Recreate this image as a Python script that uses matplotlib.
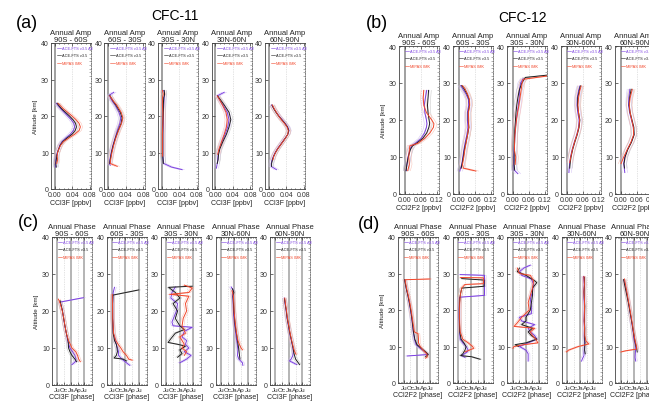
import matplotlib
matplotlib.use("Agg")
import matplotlib.pyplot as plt
import numpy as np

plt.rcParams['font.family'] = ['Liberation Sans', 'DejaVu Sans']

regions = ['90S - 60S', '60S - 30S', '30S - 30N', '30N-60N', '60N-90N']
labels = ['ACE-FTS v3.5 All', 'ACE-FTS v3.5', 'MIPAS IMK']
phase_ticks = [0, 3, 6, 9, 12]
phase_labels = ['Ju', 'Oc', 'Ja', 'Ap', 'Ju']

# (altitude km, value) pairs
# (a) CFC-11 annual amplitude [ppbv]
a1_all = [(6,.001),(7,.001),(8,.002),(9,.003),(10,.005),(11,.008),(12,.011),(13,.016),(14,.025),(15,.035),(16,.042),(17,.045),(18,.043),(19,.037),(20,.029),(21,.021),(22,.013),(23,.006),(23.5,.003)]
a1_ace = [(6,.003),(7,.002),(8,.003),(9,.004),(10,.006),(11,.009),(12,.012),(13,.018),(14,.028),(15,.039),(16,.046),(17,.049),(18,.047),(19,.041),(20,.033),(21,.024),(22,.015),(23,.008),(23.5,.005)]
a1_mip = [(7,.004),(8,.006),(9,.005),(10,.006),(11,.009),(12,.013),(13,.02),(14,.032),(15,.045),(16,.055),(17,.058),(18,.055),(19,.048),(20,.039),(21,.029),(22,.019),(23,.011),(23.5,.007)]
a2_all = [(6.5,.004),(7,.002),(8,.003),(10,.006),(12,.010),(14,.015),(16,.020),(18,.026),(19.5,.028),(21,.024),(23,.015),(24,.009),(25,.004),(25.7,.002),(26.5,.012)]
a2_ace = [(7,.003),(8,.004),(10,.007),(12,.011),(14,.016),(16,.022),(18,.029),(19.5,.031),(21,.027),(23,.017),(24,.011),(25,.006),(25.7,.003)]
a2_mip = [(6.2,.02),(7,.004),(8,.005),(10,.008),(12,.012),(14,.017),(16,.023),(18,.030),(19.5,.033),(21,.029),(23,.019),(24,.012),(25,.006),(25.5,.003)]
a3_all = [(5.3,.046),(6,.022),(7,.004),(9,.002),(12,.002),(15,.002),(18,.003),(21,.003),(23,.004),(25,.005),(26,.006),(27,.004)]
a3_ace = [(7,.003),(9,.002),(12,.002),(15,.002),(18,.002),(21,.003),(23,.003),(25,.004),(26,.006),(27,.005)]
a3_mip = [(9,.001),(12,.001),(15,.001),(18,.002),(21,.002),(23,.001),(25,.001),(26,.003),(27,.001)]
a4_all = [(5.7,.002),(7,.004),(8,.005),(9.5,.006),(11,.009),(13,.015),(15,.022),(17,.028),(19,.031),(21,.027),(23,.017),(24.5,.009),(25.5,.004),(26.5,.02)]
a4_ace = [(7,.004),(8,.006),(9.5,.007),(11,.010),(13,.017),(15,.025),(17,.031),(19,.035),(21,.031),(23,.020),(24.5,.011),(25.5,.005)]
a4_mip = [(9.5,.005),(11,.008),(13,.014),(15,.020),(17,.025),(19,.027),(21,.024),(23,.016),(24.5,.009),(25.5,.004)]
a5_all = [(5.3,.017),(6.2,.005),(7,.005),(8,.007),(9,.010),(10,.014),(11,.019),(12,.025),(13,.031),(14,.037),(15,.043),(16,.046),(17,.043),(18,.037),(19,.030),(20,.023),(21,.017),(22,.011),(23,.006)]
a5_ace = [(6.2,.006),(7,.006),(8,.008),(9,.011),(10,.015),(11,.020),(12,.026),(13,.032),(14,.038),(15,.043),(16,.045),(17,.042),(18,.036),(19,.029),(20,.022),(21,.016),(22,.011),(23,.007)]
a5_mip = [(8,.009),(9,.011),(10,.015),(11,.020),(12,.026),(13,.032),(14,.038),(15,.043),(16,.044),(17,.041),(18,.035),(19,.028),(20,.022),(21,.017),(22,.012),(23,.008)]

# (b) CFC-12 annual amplitude [ppbv]
b1_all = [(6.3,.006),(8,.009),(10,.013),(12,.02),(13,.026),(13.7,.04),(15,.062),(16.5,.075),(18,.082),(19,.084),(20,.082),(22,.076),(24,.074),(26,.078),(28,.083)]
b1_ace = [(6.3,.006),(8,.009),(10,.014),(12,.022),(13,.03),(13.7,.045),(15,.068),(16.5,.083),(18,.091),(19,.094),(20,.092),(22,.088),(24,.086),(26,.088),(28,.09)]
b1_mip = [(6.3,.012),(8,.018),(10,.016),(12,.018),(13,.02),(13.7,.05),(15,.075),(16.5,.095),(18,.108),(19,.11),(20,.102),(22,.082),(24,.072),(26,.07),(28,.072)]
b2_all = [(6.2,.005),(7,.008),(8,.012),(10,.016),(12,.02),(14,.025),(16,.031),(18,.035),(20,.033),(22,.033),(24,.038),(25.5,.037),(27,.028),(28.5,.015),(29.3,.008)]
b2_ace = [(7,.01),(8,.013),(10,.018),(12,.022),(14,.028),(16,.034),(18,.039),(20,.036),(22,.036),(24,.041),(25.5,.04),(27,.032),(28.5,.02),(29.3,.012)]
b2_mip = [(6.2,.065),(7,.018),(8,.015),(10,.02),(12,.024),(14,.029),(16,.034),(18,.038),(20,.038),(22,.037),(24,.042),(25.5,.041),(27,.034),(28.5,.024),(29.3,.015)]
b3_all = [(5.5,.02),(6.5,.006),(8,.005),(10,.005),(12,.006),(14,.008),(16,.009),(18,.011),(20,.014),(22,.018),(24,.022),(26,.025),(28,.026),(30,.03),(31.2,.04)]
b3_ace = [(6.5,.008),(8,.006),(10,.006),(12,.007),(14,.007),(16,.008),(18,.009),(20,.011),(22,.013),(24,.016),(26,.02),(28,.025),(30,.035),(31.5,.048),(32.2,.14)]
b3_mip = [(8,.01),(10,.012),(12,.007),(14,.008),(16,.009),(18,.012),(20,.015),(22,.019),(24,.024),(26,.028),(28,.032),(30,.036),(31,.04),(32,.14)]
b4_all = [(5.8,.009),(7,.01),(8.5,.012),(10,.015),(12,.021),(14,.029),(16,.038),(18,.045),(20,.047),(22,.042),(24,.039),(26,.04),(28,.045),(29.2,.05)]
b4_ace = [(7,.012),(8.5,.014),(10,.017),(12,.023),(14,.031),(16,.04),(18,.047),(20,.05),(22,.045),(24,.041),(26,.042),(28,.048),(29.2,.052)]
b4_mip = [(8.5,.012),(10,.016),(12,.022),(14,.03),(16,.039),(18,.046),(20,.049),(22,.045),(24,.043),(26,.045),(28,.05),(29.2,.055)]
b5_all = [(5.8,.016),(7,.014),(8.2,.012),(10,.016),(12,.026),(14,.04),(16,.05),(18,.048),(20,.041),(22,.034),(24,.03),(26,.031),(28.3,.035)]
b5_ace = [(7,.015),(8.2,.013),(10,.017),(12,.027),(14,.041),(16,.051),(18,.05),(20,.043),(22,.036),(24,.032),(26,.034),(28.3,.04)]
b5_mip = [(8.2,.002),(10,.012),(12,.025),(14,.039),(16,.049),(18,.048),(20,.042),(22,.036),(24,.033),(26,.036),(28.3,.044)]

# (c) CFC-11 annual phase [month]
c1_all = [(23.6,11.6),(22.4,1.2),(22,1.5),(20,2.3),(18,2.8),(16,3.3),(14,4.0),(12,4.6),(10,5.6),(9,6.8),(8,7.8),(7,8.3),(6.3,8.0),(5.5,6.5)]
c1_ace = [(22.8,1.2),(22,1.5),(20,2.3),(18,2.8),(16,3.4),(14,4.0),(12,4.8),(10,5.0),(9,5.6),(8,6.5),(7,7.8),(6.3,8.6)]
c1_mip = [(23.2,0.5),(22,1.3),(20,2.2),(18,2.9),(16,3.4),(14,4.0),(12,5.0),(10,6.5),(9,8.2),(8,9.0),(7,9.5),(6.3,10.2)]
c2_all = [(26.4,1.2),(25,0.6),(22,0.4),(18,0.4),(14,0.7),(12,1.5),(10,2.5),(9,3.0),(8,3.0),(7,4.5),(6,6.5),(5.3,8.0)]
c2_ace = [(25.7,12),(24.3,0.5),(22,0.4),(20,0.4),(18,0.4),(16,0.5),(14,0.6),(12,1.2),(11,2.0),(10,2.3),(9,2.5),(8,2.0),(7.3,1.0),(7,5.0),(6.5,6.5)]
c2_mip = [(24.5,0.2),(22,0.3),(18,0.4),(14,0.8),(12,1.8),(11,2.8),(10,4.0),(9,5.0),(8,6.5),(7,7.5),(6.7,9.0)]
c3_all = [(26.5,4),(25,2.5),(23.5,2),(22,5),(20,4.5),(18.5,3.5),(17,2.5),(16,3),(15.6,11.5),(14.5,8),(13,7),(12,9),(11,8.5),(10,10),(9,8),(8,11),(7,9),(6,6)]
c3_ace = [(26.7,11.5),(26.4,1),(25,4),(23.5,6),(22,3),(20,5),(18,4),(16,6),(15,8),(14,4),(12.5,2),(11.5,0.8),(11,5),(10.5,8.5),(9.5,6),(8.5,7),(7.5,5)]
c3_mip = [(27,8),(26.2,11.5),(25,10),(24.5,1.5),(24,10),(22,8.5),(20,9),(18,7.5),(16,7),(14,8.5),(13,6),(11,8),(10,7),(9,9),(8,8)]
c4_all = [(26.5,4.6),(25.5,5.5),(24.5,5.2),(23,5.4),(21,5.5),(19,5.7),(17,6.0),(15,6.4),(13,6.8),(11,7.3),(9.5,7.6),(8,7.4),(7,8),(6,9.6),(5.3,9.8)]
c4_ace = [(26,5.2),(25,5.8),(24,5.4),(22,5.6),(20,5.8),(18,6.1),(16,6.4),(14,6.9),(12,7.4),(10,7.9),(8.5,8.2),(7,8.5)]
c4_mip = [(25.5,5.0),(24,5.6),(22,5.8),(20,5.9),(18,6.2),(16,6.6),(14,7.0),(12,7.6),(11,8.2),(10,9.0),(9.5,9.6)]
c5_all = [(23.5,4.0),(22,4.3),(20,4.8),(18,5.2),(16,5.8),(14,6.4),(12,7.1),(10,7.8),(9,8.0),(8,7.8),(7,7.0),(6.5,6.3),(6,8),(5.5,9.5)]
c5_ace = [(23.3,4.1),(22,4.4),(20,4.9),(18,5.3),(16,5.9),(14,6.5),(12,7.2),(10,7.9),(8.5,8.3),(7,9),(5.5,10.8)]
c5_mip = [(23.5,4.2),(22,4.5),(20,5.0),(18,5.4),(16,6.0),(14,6.6),(12,7.3),(10,8.1),(9,8.6),(8.3,9.2)]

# (d) CFC-12 annual phase [month]
d1_all = [(28.3,0.4),(26,1.0),(24,1.8),(22,2.4),(20,3.0),(18,3.5),(16,3.9),(14,4.3),(12,4.8),(10.5,5.6),(9.5,7.5),(8.5,9.8),(7.8,11),(7.4,1.5)]
d1_ace = [(28.3,0.3),(26,1.0),(24,1.8),(22,2.5),(20,3.1),(18,3.6),(16,4.0),(14,4.4),(12,5.0),(10.5,6.0),(9.5,8),(8.5,10),(7.8,11.2),(7.2,10)]
d1_mip = [(28.5,12),(28.3,0.5),(26,1.2),(24,2.0),(22,2.7),(20,3.3),(18,3.8),(16,4.3),(14,4.8),(13.5,6.5),(12,6.7),(11,6.7),(10,7.5),(9,8.8),(8,10.5),(7.2,10.8),(6.8,10)]
d2_all = [(29.7,0.8),(29.5,12),(24,12),(23.5,0.5),(22,0.4),(20,0.3),(18,0.3),(16,0.4),(14,0.5),(12,0.8),(11,2),(10,3.5),(9,4.5),(8.5,4),(7.5,1.5),(7,3)]
d2_ace = [(28.6,1.5),(28.2,11.8),(26.5,11.8),(26,1.5),(24,0.8),(22,0.5),(20,0.4),(18,0.4),(16,0.5),(14,0.6),(12,1.2),(11,2.5),(10,3.5),(9,3),(8,2),(7.5,1),(7.2,6),(6.5,10)]
d2_mip = [(28.9,1.0),(28.8,11.5),(27.2,11.5),(27,3),(26,1.5),(24,0.8),(22,0.6),(20,0.5),(18,0.5),(16,0.6),(14,0.8),(12,2),(11,4.5),(10,6.5),(9.5,7),(9,5),(8.5,3)]
d3_all = [(32.3,8),(31.5,5),(30.5,3),(29.5,4),(28.5,8.5),(27,9.5),(25,9),(23,8),(21,8.5),(19,8.5),(18,3),(17,4),(16,10),(15,7),(14,8),(13,10),(12,11),(11,7),(10,3),(9,6),(8,7),(6,7)]
d3_ace = [(31.5,3),(30.5,2),(29.5,6),(28,10),(27.5,11),(26,9),(24,9),(22,8.5),(20,8),(18,6),(17,6),(16,4),(15,9),(14,7),(13,8.5),(12,11),(11,6),(10.5,1),(10,2.5)]
d3_mip = [(31.5,2),(30,3),(29.5,8),(28,9.5),(26,9),(24,8),(22,7),(20,7.5),(18,4),(16.5,2),(15.5,0.5),(15,10),(14,8),(13,9),(12,10.5),(11,11.5),(10.5,5),(10,0.5),(9.5,0)]
d4_all = [(29.2,7.4),(27,7.7),(25,7.5),(23,7.6),(21,7.8),(19,7.7),(17,7.6),(15,7.8),(13,7.7),(11,7.9),(9,7.7),(7.5,7.6),(6.5,6.8),(6,6.5)]
d4_ace = [(29,7.8),(27,7.9),(25,7.7),(23,7.8),(21,8.0),(19,7.9),(17,7.8),(15,8.0),(13,7.9),(11,8.1),(9,7.9),(8,8.2)]
d4_mip = [(29.2,7.6),(27,7.8),(25,7.6),(23,7.8),(21,7.9),(19,7.8),(17,7.7),(15,7.9),(13,8.0),(11.5,8.5),(10.7,9.8),(10,5),(9,0.5),(8.5,-0.5)]
d5_all = [(28.3,1.4),(26,2.2),(24,2.9),(22,3.5),(20,4.0),(18,4.6),(16,5.1),(14,5.6),(12,6.0),(10.5,6.6),(9.5,6.8),(8,6.6),(7,6.5),(6,6.8)]
d5_ace = [(28.3,1.2),(26,2.0),(24,2.7),(22,3.4),(20,4.0),(18,4.6),(16,5.2),(14,5.7),(12,6.3),(10.5,6.8),(9.5,7.2),(8.5,7.5)]
d5_mip = [(28.5,1.6),(26,2.4),(24,3.0),(22,3.6),(20,4.2),(18,4.8),(16,5.3),(14,5.8),(12,6.4),(10,7.2),(9.3,7.3),(8.8,2),(8.5,0)]

# half-width of the faint spread lines drawn around each mean profile
spread_a = 0.005
spread_b = 0.010
spread_phase = 0.8

colors = ['#7b3fe0', '#1e1e1e', '#f2462a']
light = ['#cdb8f2', '#bdbdbd', '#f7b9ad']

W, H = 649, 402
fig = plt.figure(figsize=(W / 100, H / 100), dpi=100)


def box(left, top, bottom, width=40):
    return [left / W, 1 - bottom / H, width / W, (bottom - top) / H]


def style(ax, xlim, xticks, xticklabels, xlabel, first, phase):
    ax.set_xlim(xlim)
    ax.set_ylim(0, 40)
    ax.set_yticks([0, 10, 20, 30, 40])
    ax.set_yticks(np.arange(0, 41, 1), minor=True)
    ax.set_xticks(xticks)
    ax.set_xticklabels(xticklabels)
    ax.tick_params(axis='both', which='major', labelsize=5, length=2, width=0.5,
                   direction='in', pad=1.5, colors='#333333')
    if phase:
        ax.tick_params(axis='x', which='major', labelsize=4.6, pad=1.5)
    ax.tick_params(axis='y', which='minor', left=False, right=True, length=1.5,
                   width=0.4, direction='in', colors='#777777')
    ax.tick_params(axis='x', which='both', top=True)
    ax.xaxis.set_minor_locator(plt.MultipleLocator((xticks[1] - xticks[0]) / 4))
    ax.tick_params(axis='x', which='minor', length=1, width=0.4, direction='in')
    for s in ['left', 'top', 'bottom']:
        ax.spines[s].set_linewidth(0.6)
        ax.spines[s].set_color('#444444')
    ax.spines['right'].set_linestyle((0, (1.5, 1.5)))
    ax.spines['right'].set_linewidth(0.6)
    ax.spines['right'].set_color('#666666')
    ax.set_xlabel(xlabel, fontsize=5, labelpad=0.5, color='#222222')
    if first:
        ax.set_ylabel('Altitude [km]', fontsize=4.5, labelpad=2, color='#222222')


def draw(ax, series, spread):
    handles = []
    for pts, lc in zip(series, light):
        z, v = np.array(pts).T
        ax.plot(v - spread, z, color=lc, lw=0.4, alpha=0.8)
        ax.plot(v + spread, z, color=lc, lw=0.4, alpha=0.8)
    for pts, c in zip(series, colors):
        z, v = np.array(pts).T
        h, = ax.plot(v, z, color=c, lw=0.7)
        handles.append(h)
    leg = ax.legend(handles, labels, loc='upper left', bbox_to_anchor=(0.12, 0.985),
                    fontsize=2.8, frameon=False, handlelength=1.2, handletextpad=0.3,
                    labelspacing=0.9, borderaxespad=0, borderpad=0.2, labelcolor='linecolor')
    for line in leg.get_lines():
        line.set_linewidth(0.4)


blocks = [
    ('a', [51, 104.5, 158, 211.5, 265], 44, 190, 'Annual Amp', 'CCl3F [ppbv]',
     (-0.0091, 0.0823), [0, 0.04, 0.08], ['0.00', '0.04', '0.08'], spread_a,
     [(a1_all, a1_ace, a1_mip), (a2_all, a2_ace, a2_mip), (a3_all, a3_ace, a3_mip),
      (a4_all, a4_ace, a4_mip), (a5_all, a5_ace, a5_mip)]),
    ('b', [399, 453, 507, 561, 615], 47, 195, 'Annual Amp', 'CCl2F2 [ppbv]',
     (-0.0206, 0.129), [0, 0.06, 0.12], ['0.00', '0.06', '0.12'], spread_b,
     [(b1_all, b1_ace, b1_mip), (b2_all, b2_ace, b2_mip), (b3_all, b3_ace, b3_mip),
      (b4_all, b4_ace, b4_mip), (b5_all, b5_ace, b5_mip)]),
    ('c', [52, 106.5, 161, 215.5, 270], 238, 386, 'Annual Phase', 'CCl3F [phase]',
     (-2.36, 15.4), phase_ticks, phase_labels, spread_phase,
     [(c1_all, c1_ace, c1_mip), (c2_all, c2_ace, c2_mip), (c3_all, c3_ace, c3_mip),
      (c4_all, c4_ace, c4_mip), (c5_all, c5_ace, c5_mip)]),
    ('d', [398, 452.5, 507, 561.5, 615], 238, 384, 'Annual Phase', 'CCl2F2 [phase]',
     (-2.76, 15.7), phase_ticks, phase_labels, spread_phase,
     [(d1_all, d1_ace, d1_mip), (d2_all, d2_ace, d2_mip), (d3_all, d3_ace, d3_mip),
      (d4_all, d4_ace, d4_mip), (d5_all, d5_ace, d5_mip)]),
]

for key, lefts, top, bottom, kind, xlabel, xlim, xticks, xtl, spread, data in blocks:
    phase = kind == 'Annual Phase'
    for i, (left, reg, series) in enumerate(zip(lefts, regions, data)):
        ax = fig.add_axes(box(left, top, bottom))
        # reference lines
        if not phase:
            ax.axvline(0, color='#a0a0a0', lw=1.4, zorder=0)
            ax.axvline(xticks[1], color='#c8c8c8', lw=0.5, ls=(0, (1, 1.5)), zorder=0)
        else:
            for m in [0, 6, 12]:
                ax.axvline(m, color='#a8a8a8', lw=1.2, zorder=0)
            for m in [3, 9]:
                ax.axvline(m, color='#c8c8c8', lw=0.5, ls=(0, (1, 1.5)), zorder=0)
        draw(ax, series, spread)
        style(ax, xlim, xticks, xtl, xlabel, i == 0, phase)
        ax.set_title(kind + '\n' + reg, fontsize=5.5, pad=1.5, linespacing=0.95,
                     color='#222222')

fig.text(175 / W, 1 - 16 / H, 'CFC-11', ha='center', va='center', fontsize=10)
fig.text(523 / W, 1 - 18 / H, 'CFC-12', ha='center', va='center', fontsize=10)
fig.text(27 / W, 1 - 23 / H, '(a)', ha='center', va='center', fontsize=13)
fig.text(377 / W, 1 - 24 / H, '(b)', ha='center', va='center', fontsize=13)
fig.text(28 / W, 1 - 223 / H, '(c)', ha='center', va='center', fontsize=13)
fig.text(369 / W, 1 - 225 / H, '(d)', ha='center', va='center', fontsize=13)

fig.savefig('out.png', dpi=100)
